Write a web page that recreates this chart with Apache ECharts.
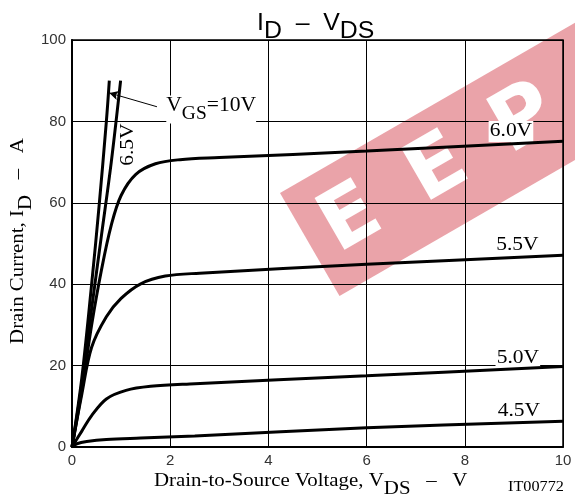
<!DOCTYPE html>
<html><head><meta charset="utf-8">
<script src="https://cdn.jsdelivr.net/npm/echarts/dist/echarts.min.js"></script>
<style>html,body{margin:0;padding:0;background:#fff}#c{width:575px;height:498px}</style>
</head><body><div id="c"></div>
<script>
// ---- data (V_DS in V, I_D in A) ----
const xTicks = [0, 2, 4, 6, 8, 10];
const yTicks = [0, 20, 40, 60, 80, 100];
const curveVgs10 = [[0,0],[0.2,17],[0.4,40],[0.55,59],[0.7,80],[0.76,90]];
const curveVgs65 = [[0,0],[0.2,15.5],[0.4,34],[0.6,52],[0.8,70],[0.99,90]];
const curveVgs60 = [[0,0],[0.2,14],[0.4,30],[0.6,43.5],[0.8,54.5],[1.0,61.8],[1.3,67],[1.7,69.6],[2.2,70.6],[3,71.1],[6,72.7],[10,75.1]];
const curveVgs55 = [[0,0],[0.2,13],[0.4,24.5],[0.7,32],[1.0,36.5],[1.4,40.1],[1.9,42],[2.6,42.7],[6,44.9],[10,47.1]];
const curveVgs50 = [[0,0],[0.2,3.9],[0.4,7.7],[0.7,11.8],[1.1,13.9],[1.6,14.9],[2.4,15.5],[6,17.5],[10,19.8]];
const curveVgs45 = [[0,0],[0.1,0.8],[0.3,1.35],[0.7,1.85],[1.4,2.2],[2.5,2.7],[6,4.7],[10,6.3]];
const curveLabels = [
  {text: '6.0V', x: 8.94, y: 77.5},
  {text: '5.5V', x: 9.07, y: 49.6},
  {text: '5.0V', x: 9.08, y: 21.9},
  {text: '4.5V', x: 9.10, y: 8.7}
];
const label65 = {text: '6.5V', x: 1.15, y: 74.3};
const labelVgs = {x: 1.92, y: 82.9};
const arrowFrom = [1.73, 83.6];
const arrowTo = [0.76, 87.0];
const watermarkLetters = ['E', 'E', 'P'];

const serif = "'Liberation Serif','Times New Roman',serif";
const sans = "'Liberation Sans',Arial,sans-serif";
const SX = 1.16; // horizontal stretch of the reference lettering

const chart = echarts.init(document.getElementById('c'), null, {renderer: 'canvas'});

function mk(data, extra) {
  return Object.assign({
    type: 'line', data: data, showSymbol: false, symbol: 'none',
    smooth: 0.35,
    lineStyle: {color: '#000', width: 3}, z: 3, silent: true
  }, extra || {});
}

chart.setOption({
  backgroundColor: '#fff',
  animation: false,
  grid: {left: 72, right: 12, top: 40, bottom: 51, show: true, borderColor: '#000', borderWidth: 1.5},
  xAxis: {
    type: 'value', min: xTicks[0], max: xTicks[xTicks.length-1], interval: 2,
    axisLine: {show: true, onZero: false, lineStyle: {color: '#000', width: 2}},
    axisTick: {show: false},
    splitLine: {show: true, lineStyle: {color: '#000', width: 1}},
    axisLabel: {color: '#333', fontFamily: sans, fontSize: 15, margin: 6}
  },
  yAxis: {
    type: 'value', min: yTicks[0], max: yTicks[yTicks.length-1], interval: 20,
    axisLine: {show: true, onZero: false, lineStyle: {color: '#000', width: 2}},
    axisTick: {show: false},
    splitLine: {show: true, lineStyle: {color: '#000', width: 1}},
    axisLabel: {color: '#333', fontFamily: sans, fontSize: 15, margin: 6}
  },
  series: [
    mk(curveVgs10, {
      markLine: {
        silent: true, symbol: ['none', 'arrow'], symbolSize: [7, 9],
        lineStyle: {color: '#000', width: 1, type: 'solid'},
        label: {show: false},
        data: [[{coord: arrowFrom}, {coord: arrowTo}]]
      }
    }),
    mk(curveVgs65), mk(curveVgs60), mk(curveVgs55), mk(curveVgs50), mk(curveVgs45)
  ]
});

function subRich(font, size, shift) {
  return {
    a: {fontFamily: font, fontSize: size, lineHeight: size, verticalAlign: 'top', fill: '#000'},
    b: {fontFamily: font, fontSize: size, lineHeight: size + 2 * shift, verticalAlign: 'bottom', fill: '#000'}
  };
}

const g = [];
// watermark band
const wmChildren = [{type: 'rect', shape: {x: 0, y: 0, width: 420, height: 119}, style: {fill: '#eaa3a9'}, z: -10}];
watermarkLetters.forEach(function (ch, i) {
  wmChildren.push({type: 'text', x: 48 + i * 100, y: 60, z: -9,
    style: {text: ch, fill: '#fff', font: "bold 82px 'DejaVu Sans',sans-serif", textVerticalAlign: 'middle', textAlign: 'center'}});
});
g.push({type: 'group', x: 280, y: 193, rotation: Math.PI / 6, z: -10, silent: true, children: wmChildren});
// title
g.push({
  type: 'text', x: 257, y: 12, scaleX: 1.08, z: 5,
  style: {text: '{a|I}{b|D}{a|  \u2013  V}{b|DS}', rich: subRich(sans, 23, 4)}
});
// curve labels
curveLabels.forEach(function (l) {
  const p = chart.convertToPixel({gridIndex: 0}, [l.x, l.y]);
  g.push({type: 'text', x: p[0], y: p[1], scaleX: SX, z: 1,
    style: {text: l.text, font: "18.5px " + serif, fill: '#000', textAlign: 'center', textVerticalAlign: 'middle',
      backgroundColor: '#fff', padding: [1, 1, 1, 1]}});
});
(function () {
  const p = chart.convertToPixel({gridIndex: 0}, [label65.x, label65.y]);
  g.push({type: 'text', x: p[0], y: p[1], rotation: Math.PI / 2, scaleX: SX, z: 1,
    style: {text: label65.text, font: "18.5px " + serif, fill: '#000', textAlign: 'center', textVerticalAlign: 'middle'}});
  const q = chart.convertToPixel({gridIndex: 0}, [labelVgs.x, labelVgs.y]);
  g.push({type: 'text', x: q[0], y: q[1], scaleX: 1.08, z: 1,
    style: {
      text: '{a|V}{b|GS}{a|=10V}', textAlign: 'left', textVerticalAlign: 'middle',
      backgroundColor: '#fff',
      rich: {
        a: {fontFamily: serif, fontSize: 20, lineHeight: 20, verticalAlign: 'top', fill: '#000'},
        b: {fontFamily: serif, fontSize: 18, lineHeight: 28, verticalAlign: 'bottom', fill: '#000'}
      }
    }});
})();
// axis names
g.push({
  type: 'text', x: 154, y: 472, scaleX: SX, z: 5,
  style: {text: '{a|Drain-to-Source Voltage, V}{b|DS}{a|   \u2013   V}', rich: subRich(serif, 18, 4)}
});
g.push({type: 'text', x: 508, y: 480, scaleX: SX, z: 5,
  style: {text: 'IT00772', font: "14px " + serif, fill: '#000'}});
g.push({
  type: 'text', x: 22, y: 241, rotation: Math.PI / 2, scaleX: SX, z: 5,
  style: {
    text: '{a|Drain Current, I}{b|D}{a|   \u2013   A}', textAlign: 'center', textVerticalAlign: 'middle',
    rich: subRich(serif, 18, 4)
  }
});
chart.setOption({graphic: g});
</script></body></html>
